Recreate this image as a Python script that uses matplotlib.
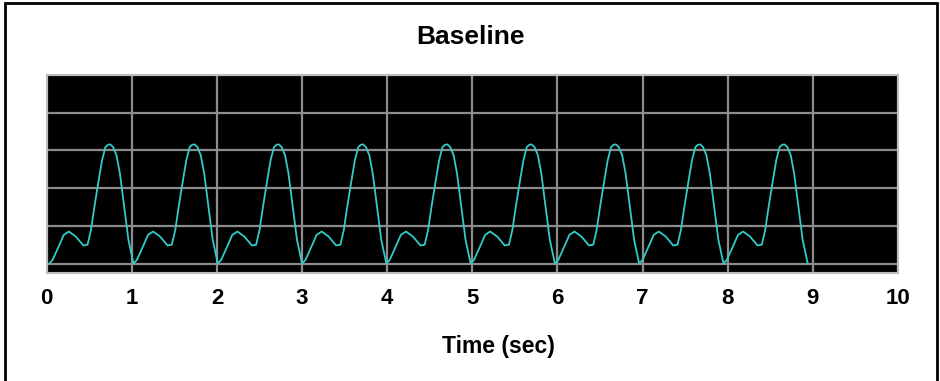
import numpy as np
import matplotlib
matplotlib.use("Agg")
import matplotlib.pyplot as plt
from matplotlib.patches import Rectangle

plt.rcParams['font.family'] = ['Liberation Sans', 'DejaVu Sans']

# one heartbeat: time since beat start (s) and level
beat_t = [0.0, 0.04, 0.12, 0.17, 0.23, 0.31, 0.40, 0.45, 0.49, 0.53,
          0.58, 0.62, 0.66, 0.69, 0.716, 0.75, 0.79, 0.83, 0.88, 0.93, 0.99]
beat_v = [0.0, 0.10, 0.50, 0.76, 0.85, 0.72, 0.48, 0.50, 0.89, 1.50,
          2.20, 2.74, 3.09, 3.15, 3.16, 3.09, 2.87, 2.39, 1.51, 0.63, 0.0]

# start time of each beat (s)
beat_starts = [0.03, 1.02, 2.01, 3.00, 3.99, 4.98, 5.97, 6.96, 7.95]

x_ticks = [0, 1, 2, 3, 4, 5, 6, 7, 8, 9, 10]
y_grid = [0, 1, 2, 3, 4, 5]

# build the trace beat by beat
time = []
level = []
for s in beat_starts:
    for bt, bv in zip(beat_t, beat_v):
        time.append(s + bt)
        level.append(bv)

fig = plt.figure(figsize=(9.4, 3.81), dpi=100)
ax = fig.add_axes([46.7 / 940, 108 / 381, 851.3 / 940, 198 / 381])
ax.set_facecolor('black')

ax.plot(time, level, color='#33caca', lw=1.3, zorder=3)

ax.set_xlim(0, 10)
ax.set_ylim(-0.25, 5.0)
ax.set_xticks(x_ticks)
ax.set_yticks(y_grid)
ax.set_yticklabels([])
ax.grid(True, color='#8c8c8c', lw=1.6)
ax.set_axisbelow(True)
ax.tick_params(axis='both', length=0)
ax.tick_params(axis='x', pad=11, labelsize=16)
for lab in ax.get_xticklabels():
    lab.set_fontweight('bold')
for sp in ax.spines.values():
    sp.set_color('#bdbdbd')
    sp.set_linewidth(1.5)

ax.set_xlabel('Time (sec)', fontsize=16.5, fontweight='bold')
ax.xaxis.set_label_coords((498 - 46.7) / 851.3, -(346 - 273) / 198)
ax.xaxis.label.set_va('center')
fig.text(0.5, 1 - 37 / 381, 'Baseline', ha='center', va='center',
         fontsize=19, fontweight='bold')

# outer frame of the picture
fig.patches.append(Rectangle((5 / 940, -0.05), 932 / 940, 1.05 - 3 / 381,
                             transform=fig.transFigure, fill=False,
                             edgecolor='black', lw=2))

fig.savefig('out.png', dpi=100)
